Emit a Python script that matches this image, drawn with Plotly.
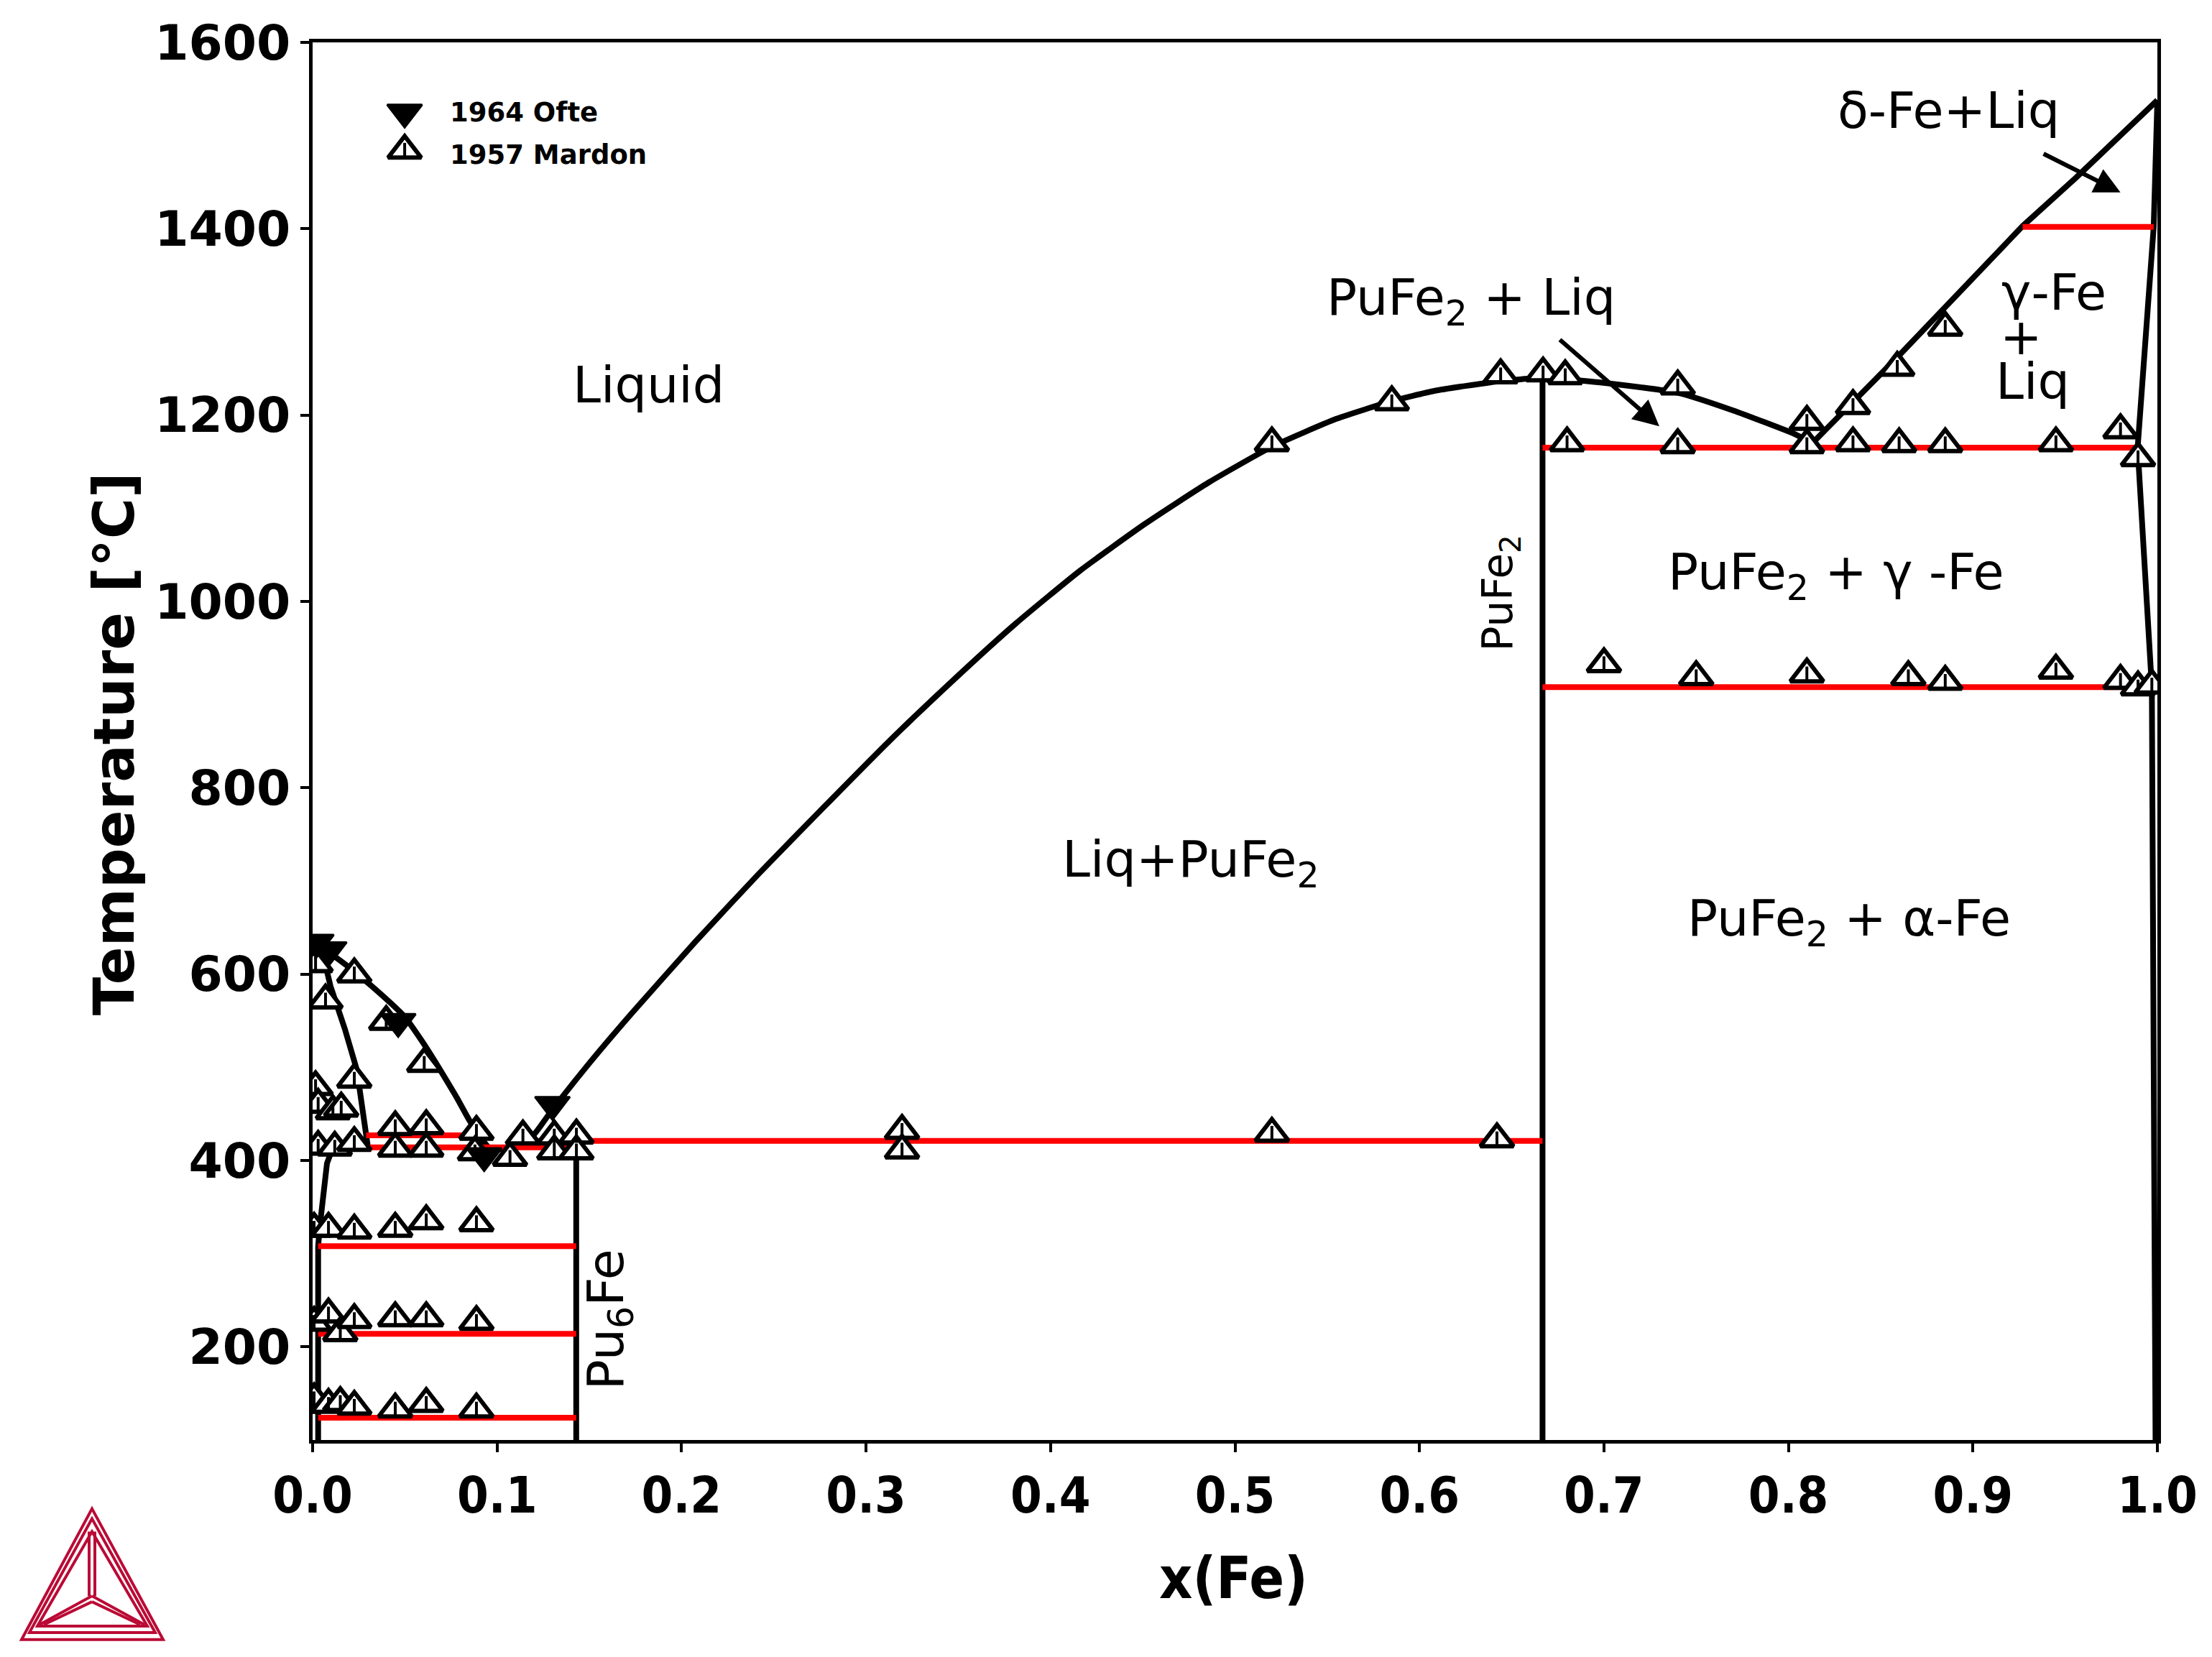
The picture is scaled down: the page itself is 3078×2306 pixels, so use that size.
import plotly.graph_objects as go

# ---------------- data (x(Fe), T in °C) ----------------
# Pu-rich liquidus
liq_pu_x = [0.0, 0.006, 0.018, 0.035, 0.05, 0.059, 0.068, 0.078, 0.085, 0.092, 0.097]
liq_pu_t = [640, 628, 610, 582, 554, 529, 501, 468, 443, 422, 410]
# liquidus eutectic -> PuFe2 -> eutectic
liq_mid_x = [0.097, 0.11, 0.12, 0.129, 0.149, 0.173, 0.2076, 0.242, 0.277, 0.312, 0.347,
             0.381, 0.416, 0.451, 0.486, 0.52, 0.555, 0.585, 0.608, 0.642, 0.667, 0.698,
             0.74, 0.77, 0.803, 0.813]
liq_mid_t = [410, 417, 428, 452, 502, 558, 635, 708, 779, 849, 915,
             976, 1033, 1083, 1128, 1166, 1196, 1215, 1226, 1236, 1240, 1235,
             1224, 1205, 1180, 1170]
# gamma / delta Fe liquidus
liq_fe_x = [0.813, 0.86, 0.927, 0.956, 1.0]
liq_fe_t = [1170, 1264, 1403, 1455, 1538]
# Fe-side solvus / solidus
fe_sol_x = [1.0, 0.998, 0.9893, 0.997, 0.999]
fe_sol_t = [1538, 1402, 1165, 908, 100]
# compounds
pu6fe_x = [0.1429, 0.1429]
pu6fe_t = [100, 420]
pufe2_x = [0.6667, 0.6667]
pufe2_t = [100, 1240]
# epsilon-Pu solidus and delta-Pu solvus
eps_x = [0.0, 0.006, 0.0097, 0.0175, 0.024, 0.028, 0.029, 0.03]
eps_t = [640, 618, 587, 541, 497, 440, 427, 414]
delta_x = [0.011, 0.0078, 0.004, 0.003, 0.003]
delta_t = [414, 397, 331, 308, 100]

# invariant (red) lines
inv_t = [1402, 1165, 908, 427, 421, 414, 308, 214, 124]
inv_x0 = [0.927, 0.6667, 0.6667, 0.029, 0.12, 0.03, 0.003, 0.003, 0.003]
inv_x1 = [0.998, 0.9893, 0.997, 0.088, 0.6667, 0.1429, 0.1429, 0.1429, 0.1429]

# experimental data: 1957 Mardon
mardon_x = [0.0016, 0.007, 0.0226, 0.0399, 0.0605,
            0.0016, 0.0226, 0.003, 0.011, 0.0155,
            0.003, 0.012, 0.0226,
            0.0448, 0.0616, 0.0888,
            0.0448, 0.0616, 0.088, 0.107, 0.114, 0.131, 0.143, 0.131, 0.143,
            0.0008, 0.0086, 0.0226, 0.0448, 0.0616, 0.0888,
            0.0008, 0.0086, 0.015, 0.0226, 0.0448, 0.0616, 0.0888,
            0.0008, 0.0086, 0.015, 0.0226, 0.0448, 0.0616, 0.0888,
            0.3195, 0.3195, 0.52, 0.642,
            0.52, 0.585, 0.644, 0.667, 0.679, 0.74, 0.81, 0.835, 0.859, 0.885,
            0.68, 0.74, 0.81, 0.835, 0.86, 0.885, 0.945, 0.98, 0.9895,
            0.70, 0.75, 0.81, 0.865, 0.885, 0.945, 0.98, 0.9895, 0.997]
mardon_t = [611, 572, 600, 549, 504,
            479, 487, 460, 453, 456,
            415, 414, 419,
            436, 437, 431,
            413, 413, 409, 403, 426, 426, 427, 410, 410,
            327, 327, 325, 327, 335, 333,
            226, 235, 215, 229, 231, 231, 227,
            144, 138, 140, 136, 133, 139, 133,
            432, 411, 429, 423,
            1170, 1214, 1243, 1245, 1242, 1231, 1193, 1210, 1251, 1294,
            1170, 1168, 1168, 1170, 1169, 1169, 1170, 1184, 1154,
            933, 919, 922, 919, 914, 926, 915, 908, 910]

# experimental data: 1964 Ofte
ofte_x = [0.002, 0.009, 0.0464, 0.093, 0.13]
ofte_t = [634, 626, 549, 405, 460]

x_ticks = [0.0, 0.1, 0.2, 0.3, 0.4, 0.5, 0.6, 0.7, 0.8, 0.9, 1.0]
x_tick_text = ["0.0", "0.1", "0.2", "0.3", "0.4", "0.5", "0.6", "0.7", "0.8", "0.9", "1.0"]
y_ticks = [200, 400, 600, 800, 1000, 1200, 1400, 1600]

# ---------------- figure ----------------
OFF = 8  # page body margin of the html page
ML, MR, MT, MB = 435 - OFF, 76, 51 - OFF, 302
PW, PH = 2567, 1953
W, H = ML + PW + MR, MT + PH + MB

LW = 8
fig = go.Figure()

black_lines = [(liq_pu_x, liq_pu_t, "spline"), (liq_mid_x, liq_mid_t, "spline"),
               (liq_fe_x, liq_fe_t, "linear"), (fe_sol_x, fe_sol_t, "linear"),
               (pu6fe_x, pu6fe_t, "linear"), (pufe2_x, pufe2_t, "linear"),
               (eps_x, eps_t, "linear"), (delta_x, delta_t, "linear")]
for lx, lt, shp in black_lines:
    fig.add_trace(go.Scatter(x=lx, y=lt, mode="lines",
                             line=dict(color="black", width=LW, shape=shp, smoothing=0.5),
                             showlegend=False, hoverinfo="skip"))

rx, rt = [], []
for x0, x1, t in zip(inv_x0, inv_x1, inv_t):
    rx += [x0, x1, None]
    rt += [t, t, None]
fig.add_trace(go.Scatter(x=rx, y=rt, mode="lines", line=dict(color="#ff0000", width=LW),
                         showlegend=False, hoverinfo="skip"))

tri_marker = dict(symbol="triangle-up", size=40, color="white", line=dict(color="black", width=6))
tick_marker = dict(symbol="line-ns", size=15, line=dict(color="black", width=4))
ofte_marker = dict(symbol="triangle-down", size=42, color="black", line=dict(color="black", width=3))

fig.add_trace(go.Scatter(x=mardon_x, y=mardon_t, mode="markers", marker=tri_marker,
                         name="1957 Mardon", showlegend=False))
fig.add_trace(go.Scatter(x=mardon_x, y=mardon_t, mode="markers", marker=tick_marker,
                         showlegend=False, hoverinfo="skip"))
fig.add_trace(go.Scatter(x=ofte_x, y=ofte_t, mode="markers", marker=ofte_marker,
                         name="1964 Ofte", showlegend=False))

# manual legend (on an overlay axis spanning [0,1])
leg_x = [0.0499, 0.0499]
leg_y = [0.950, 0.9227]
fig.add_trace(go.Scatter(x=[leg_x[0]], y=[leg_y[0]], xaxis="x2", yaxis="y2", mode="markers",
                         marker=ofte_marker, showlegend=False, hoverinfo="skip"))
fig.add_trace(go.Scatter(x=[leg_x[1]], y=[leg_y[1]], xaxis="x2", yaxis="y2", mode="markers",
                         marker=tri_marker, showlegend=False, hoverinfo="skip"))
fig.add_trace(go.Scatter(x=[leg_x[1]], y=[leg_y[1]], xaxis="x2", yaxis="y2", mode="markers",
                         marker=tick_marker, showlegend=False, hoverinfo="skip"))

FONT = "DejaVu Sans"
lab = dict(family=FONT, size=70, color="black")
annotations = [
    dict(x=0.182, y=1232, text="Liquid", font=lab),
    dict(x=0.628, y=1322, text="PuFe<sub>2</sub> + Liq", font=lab),
    dict(x=0.887, y=1527, text="δ-Fe+Liq", font=lab),
    dict(x=0.944, y=1332, text="γ-Fe", font=lab),
    dict(x=0.926, y=1284, text="+", font=lab),
    dict(x=0.9325, y=1236, text="Liq", font=lab),
    dict(x=0.826, y=1028, text="PuFe<sub>2</sub> + γ -Fe", font=lab),
    dict(x=0.833, y=656, text="PuFe<sub>2</sub> + α-Fe", font=lab),
    dict(x=0.476, y=719, text="Liq+PuFe<sub>2</sub>", font=lab),
    dict(x=0.644, y=1009, text="PuFe<sub>2</sub>", textangle=-90,
         font=dict(family=FONT, size=58, color="black")),
    dict(x=0.1607, y=229, text="Pu<sub>6</sub>Fe", textangle=-90,
         font=dict(family=FONT, size=70, color="black")),
]
for a in annotations:
    a.update(xref="x", yref="y", showarrow=False, xanchor="center", yanchor="middle")

# arrows
annotations.append(dict(x=0.980, y=1439, ax=0.9377, ay=1481, xref="x", yref="y", axref="x", ayref="y",
                        text="", showarrow=True, arrowhead=2, arrowsize=1.2, arrowwidth=6, arrowcolor="black"))
annotations.append(dict(x=0.730, y=1188, ax=0.6755, ay=1282, xref="x", yref="y", axref="x", ayref="y",
                        text="", showarrow=True, arrowhead=2, arrowsize=1.2, arrowwidth=6, arrowcolor="black"))

# legend texts
leg_font = dict(family=FONT, size=37, color="black", weight="bold")
annotations.append(dict(x=0.0736, y=0.950, xref="paper", yref="paper", text="1964 Ofte",
                        showarrow=False, xanchor="left", yanchor="middle", font=leg_font))
annotations.append(dict(x=0.0736, y=0.9196, xref="paper", yref="paper", text="1957 Mardon",
                        showarrow=False, xanchor="left", yanchor="middle", font=leg_font))


# pixel (in the final screenshot) -> paper coordinates
def P(px, py):
    return (px - OFF - ML) / PW, (MT + PH - (py - OFF)) / PH


# axis titles
tx, ty = P(1716, 2197)
annotations.append(dict(x=tx, y=ty, xref="paper", yref="paper",
                        text="x(Fe)", showarrow=False, xanchor="center", yanchor="middle",
                        font=dict(family="DejaVu Sans Condensed, Liberation Sans Narrow, DejaVu Sans",
                                  size=80, color="black", weight="bold")))
tx, ty = P(159, 1031)
annotations.append(dict(x=tx, y=ty, xref="paper", yref="paper",
                        text="Temperature [°C]", textangle=-90, showarrow=False,
                        xanchor="center", yanchor="middle",
                        font=dict(family=FONT, size=78, color="black", weight="bold")))


# Thermo-Calc style logo
def path(pts):
    s = ""
    for i, (px, py) in enumerate(pts):
        u, v = P(px, py)
        s += ("M" if i == 0 else "L") + f"{u:.5f},{v:.5f} "
    return s + "Z"


def seg(p0, p1):
    u0, v0 = P(*p0)
    u1, v1 = P(*p1)
    return f"M{u0:.5f},{v0:.5f} L{u1:.5f},{v1:.5f}"


LOGO = "#BA0A35"
shapes = []
for pts in [[(128, 2100), (30, 2283), (227, 2283)],
            [(128, 2114), (41, 2273), (216, 2273)],
            [(128, 2132), (52, 2264), (205, 2264)]]:
    shapes.append(dict(type="path", path=path(pts), xref="paper", yref="paper",
                       line=dict(color=LOGO, width=4)))
for p0, p1 in [((124, 2132), (124, 2222)), ((132, 2132), (132, 2222)),
               ((128, 2222), (55, 2262)), ((128, 2230), (61, 2262)),
               ((128, 2222), (201, 2262)), ((128, 2230), (195, 2262))]:
    shapes.append(dict(type="path", path=seg(p0, p1), xref="paper", yref="paper",
                       line=dict(color=LOGO, width=4)))

fig.update_layout(
    width=W, height=H,
    margin=dict(l=ML, r=MR, t=MT, b=MB, pad=0),
    paper_bgcolor="white", plot_bgcolor="white",
    showlegend=False,
    annotations=annotations,
    shapes=shapes,
    xaxis=dict(range=[0, 1], tickvals=x_ticks, ticktext=x_tick_text,
               showgrid=False, zeroline=False, showline=True, mirror=True,
               linecolor="black", linewidth=5, ticks="outside", ticklen=12, tickwidth=4,
               tickcolor="black",
               tickfont=dict(family="DejaVu Sans Condensed, Liberation Sans Narrow, DejaVu Sans",
                             size=70, color="black", weight="bold")),
    yaxis=dict(range=[100, 1600], tickvals=y_ticks,
               showgrid=False, zeroline=False, showline=True, mirror=True,
               linecolor="black", linewidth=5, ticks="outside", ticklen=12, tickwidth=4,
               tickcolor="black",
               tickfont=dict(family=FONT, size=68, color="black", weight="bold")),
    xaxis2=dict(range=[0, 1], overlaying="x", visible=False, fixedrange=True),
    yaxis2=dict(range=[0, 1], overlaying="y", visible=False, fixedrange=True),
)

fig.write_html("out.html")
